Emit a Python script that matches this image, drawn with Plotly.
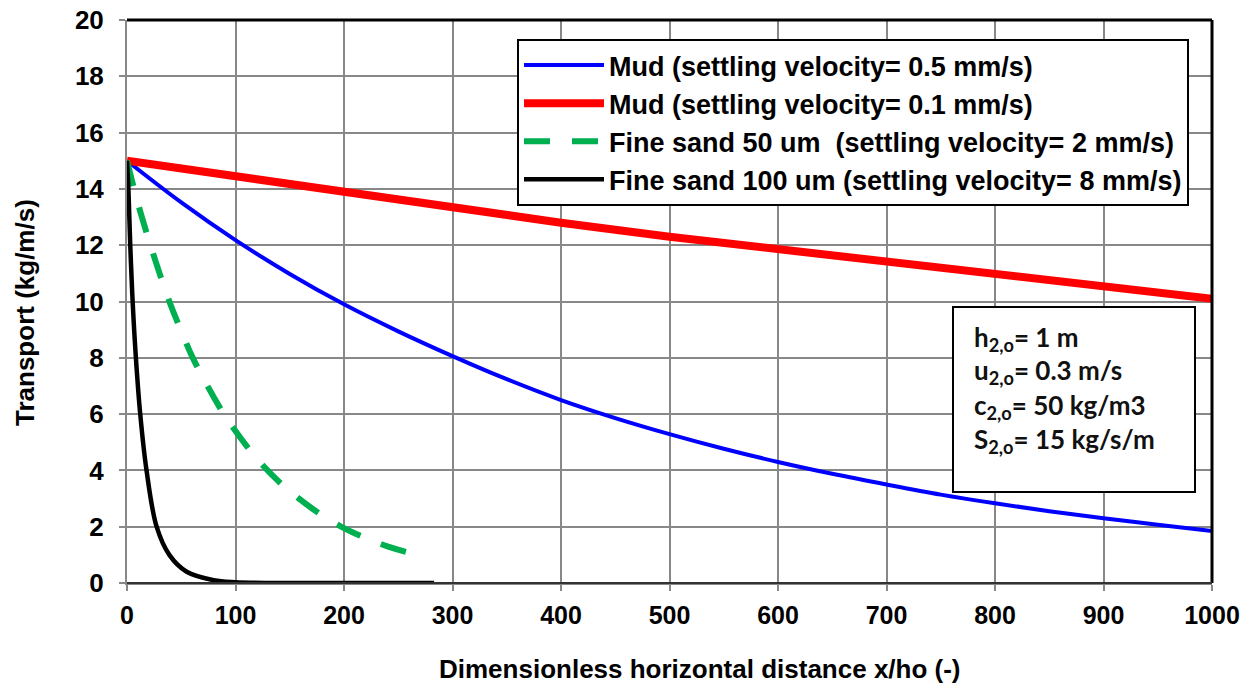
import plotly.graph_objects as go

# ---------------- data ----------------
blue_x = [0, 50, 100, 150, 200, 250, 300, 350, 400, 450, 500, 550, 600, 650, 700, 750, 800, 850, 900, 950, 1000]
blue_y = [15, 13.52, 12.18, 10.98, 9.9, 8.94, 8.06, 7.24, 6.5, 5.86, 5.29, 4.77, 4.3, 3.88, 3.5, 3.14, 2.83, 2.55, 2.3, 2.07, 1.85]

red_x = [0, 100, 200, 300, 400, 500, 600, 700, 800, 900, 1000]
red_y = [15, 14.45, 13.85, 13.35, 12.8, 12.3, 11.85, 11.4, 10.95, 10.5, 10.1]

green_x = [0, 10, 20, 30, 40, 50, 60, 70, 80, 90, 100, 120, 140, 160, 180, 200, 220, 240, 260, 270]
green_y = [15, 13.5, 12.2, 11.0, 9.9, 8.95, 8.05, 7.3, 6.6, 5.95, 5.4, 4.4, 3.6, 2.95, 2.4, 1.95, 1.6, 1.3, 1.08, 1.0]

black_x = [0, 1.3, 3, 5.2, 8.2, 12.2, 18, 27.3, 39, 55, 80, 100, 150, 200, 283]
black_y = [15, 14, 12, 10, 8, 6, 4, 2, 1, 0.4, 0.1, 0.03, 0, 0, 0]

names = [
    "Mud (settling velocity= 0.5 mm/s)",
    "Mud (settling velocity= 0.1 mm/s)",
    "Fine sand 50 um\u00a0 (settling velocity= 2 mm/s)",
    "Fine sand 100 um (settling velocity= 8 mm/s)",
]

x_ticks = [0, 100, 200, 300, 400, 500, 600, 700, 800, 900, 1000]
y_ticks = [0, 2, 4, 6, 8, 10, 12, 14, 16, 18, 20]

info_lines = [
    "h<sub>2,o</sub>= 1 m",
    "u<sub>2,o</sub>= 0.3 m/s",
    "c<sub>2,o</sub>= 50 kg/m3",
    "S<sub>2,o</sub>= 15 kg/s/m",
]

x_title = "Dimensionless horizontal distance x/ho (-)"
y_title = "Transport (kg/m/s)"

# ---------------- figure ----------------
ARIAL = "Liberation Sans, Arial, sans-serif"

fig = go.Figure()
fig.add_trace(go.Scatter(x=blue_x, y=blue_y, mode="lines", name=names[0],
                         line=dict(color="#0000FF", width=4, shape="spline"), legendgroup="a"))
fig.add_trace(go.Scatter(x=red_x, y=red_y, mode="lines", name=names[1],
                         line=dict(color="#FF0000", width=8), legendgroup="b"))
fig.add_trace(go.Scatter(x=green_x, y=green_y, mode="lines", name=names[2],
                         line=dict(color="#00B050", width=6, dash="26px,22px", shape="spline"),
                         legendgroup="c"))
fig.add_trace(go.Scatter(x=black_x, y=black_y, mode="lines", name=names[3],
                         line=dict(color="#000000", width=4.5, shape="spline"), legendgroup="d"))

L, R, T, B = 127, 38, 20, 103
W, H = 1250, 686
pw, ph = W - L - R, H - T - B

def px_x(p):
    return (p - L) / pw

def px_y(p):
    return (H - B - p) / ph

fig.update_layout(
    width=W, height=H,
    margin=dict(l=L, r=R, t=T, b=B, autoexpand=False),
    paper_bgcolor="white", plot_bgcolor="white",
    font=dict(family=ARIAL, color="black", size=25),
    showlegend=True,
    legend=dict(
        x=px_x(517), y=px_y(39), xanchor="left", yanchor="top",
        bgcolor="white", bordercolor="black", borderwidth=2,
        font=dict(size=27, family=ARIAL, weight="bold"),
        itemwidth=80, tracegroupgap=0,
    ),
    xaxis=dict(
        range=[0, 1000], tickvals=x_ticks, ticktext=[str(v) for v in x_ticks],
        showgrid=True, gridcolor="#888888", gridwidth=1.5,
        showline=True, linecolor="#888888", linewidth=2,
        ticks="outside", ticklen=6, tickcolor="#888888", tickwidth=1.5,
        tickfont=dict(size=25, weight="bold"),
        ticklabelstandoff=3, automargin=False,
        zeroline=False,
    ),
    yaxis=dict(
        range=[0, 20], tickvals=y_ticks, ticktext=[str(v) for v in y_ticks],
        showgrid=True, gridcolor="#888888", gridwidth=1.5,
        showline=True, linecolor="#888888", linewidth=2,
        ticks="outside", ticklen=6, tickcolor="#888888", tickwidth=1.5,
        tickfont=dict(size=26, weight="bold"),
        ticklabelstandoff=10, automargin=False,
        zeroline=False,
    ),
)

# axis titles
fig.add_annotation(x=px_x(700), y=px_y(669), xref="paper", yref="paper",
                   xanchor="center", yanchor="middle", text=x_title, showarrow=False,
                   font=dict(family=ARIAL, size=26, weight="bold", color="black"))
fig.add_annotation(x=px_x(25), y=px_y(313), xref="paper", yref="paper",
                   xanchor="center", yanchor="middle", text=y_title, showarrow=False,
                   textangle=-90,
                   font=dict(family=ARIAL, size=26, weight="bold", color="black"))

# plot frame (top / right black edges)
fig.add_shape(type="line", xref="paper", yref="paper", x0=0, x1=1, y0=1, y1=1,
              line=dict(color="black", width=3))
fig.add_shape(type="line", xref="paper", yref="paper", x0=1, x1=1, y0=0, y1=1,
              line=dict(color="black", width=3))
fig.add_shape(type="line", xref="paper", yref="paper", x0=0, x1=1, y0=0, y1=0,
              line=dict(color="#333333", width=2))

# info box
fig.add_shape(type="rect", xref="paper", yref="paper",
              x0=px_x(953), x1=px_x(1195), y0=px_y(492), y1=px_y(307),
              line=dict(color="black", width=2), fillcolor="white", layer="above")
line_centers = [338, 372, 406, 440]
for txt, yc in zip(info_lines, line_centers):
    fig.add_annotation(x=px_x(972), y=px_y(yc), xref="paper", yref="paper",
                       xanchor="left", yanchor="middle", text=txt, showarrow=False,
                       font=dict(family="Lato, Open Sans, sans-serif", size=26,
                                 weight="bold", color="#111111"))

fig.write_html("out.html")
